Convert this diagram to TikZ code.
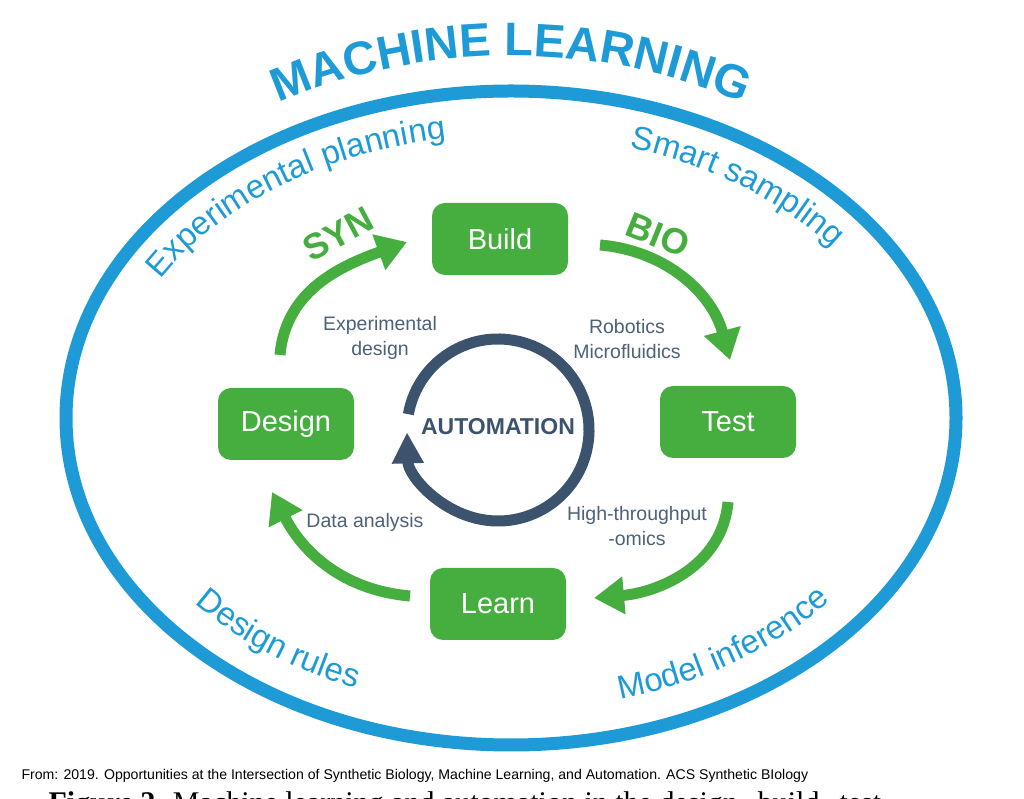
\documentclass[tikz,border=0pt]{standalone}
\usepackage{fontspec}
\setmainfont{Liberation Sans}
\newfontfamily\capserif{Liberation Serif}
\usetikzlibrary{arrows.meta,decorations.text}
\definecolor{gBlue} {HTML}{1E9BD7}
\definecolor{gGreen}{HTML}{45AE3F}
\definecolor{gNavy} {HTML}{3B536D}
\definecolor{gNavyLt}{HTML}{4D6178}
\newcommand{\ringfont}{\fontsize{33}{33}\selectfont}

\begin{document}
\begin{tikzpicture}[
  x=1pt, y=1pt,
  stage/.style={rounded corners=13pt, fill=gGreen, text=white, minimum width=136pt,
                minimum height=72pt, font=\fontsize{29}{29}\selectfont},
  note/.style={text=gNavyLt, align=center, font=\fontsize{19.5}{25}\selectfont},
  flow/.style={draw=gGreen, line width=11pt, -{Triangle[length=30pt,width=36pt]}},
  ringtext/.style={decorate, decoration={text along path, text align=center, text color=gBlue}},
]
\useasboundingbox (0,0) rectangle (1024,799);
\clip (0,0) rectangle (1024,799);

% ============================================================ ring
\coordinate (o) at (511,381);
\draw[draw=gBlue, line width=13pt] (o) ellipse [x radius=445, y radius=327];

\path[ringtext, decoration={text={|\bfseries\fontsize{47}{47}\selectfont|MACHINE LEARNING}}]
  (o) ++({470*cos(150)},{362*sin(150)}) arc[start angle=150, end angle=30, x radius=470, y radius=362];
\path[ringtext, decoration={text={|\ringfont|Experimental planning}}]
  (o) ++({402*cos(167)},{283*sin(167)}) arc[start angle=167, end angle=87, x radius=402, y radius=283];
\path[ringtext, decoration={text={|\ringfont|Smart sampling}}]
  (o) ++({402*cos(92)},{283*sin(92)}) arc[start angle=92, end angle=12, x radius=402, y radius=283];
\path[ringtext, decoration={text={|\ringfont|Design rules}}]
  (o) ++({410*cos(190.5)},{292*sin(190.5)}) arc[start angle=190.5, end angle=270.5, x radius=410, y radius=292];
\path[ringtext, decoration={text={|\ringfont|Model inference}}]
  (o) ++({410*cos(266)},{292*sin(266)}) arc[start angle=266, end angle=346, x radius=410, y radius=292];

% ============================================================ stages
\node[stage] at (500,560) (build)  {Build};
\node[stage] at (728,377) (test)   {Test};
\node[stage] at (498,195) (learn)  {Learn};
\node[stage] at (286,375) (design) {Design};

% ---- cycle arrows
\coordinate (syn1) at (280,444);  \coordinate (syn2) at (407,557);
\coordinate (bio1) at (600,554);  \coordinate (bio2) at (730,439);
\coordinate (omx1) at (728,297);  \coordinate (omx2) at (594,201);
\coordinate (dat1) at (410,203);  \coordinate (dat2) at (272,307);
\draw[flow] (syn1) to[out=85, in=200] (syn2);
\draw[flow] (bio1) to[out=-5, in=105] (bio2);
\draw[flow] (omx1) to[out=-95, in=5] (omx2);
\draw[flow] (dat1) to[out=175, in=-63] (dat2);

\node[font=\bfseries\fontsize{36}{36}\selectfont, text=gGreen, rotate=28] at (338,565) (syn) {SYN};
\node[font=\bfseries\fontsize{36}{36}\selectfont, text=gGreen, rotate=-22] at (658,564) (bio) {BIO};

% ============================================================ automation
\coordinate (ac) at (498,369);
\draw[draw=gNavy, line width=11pt, -{Triangle[length=31pt,width=30pt]}]
  (ac) ++(170:91) arc[start angle=170, end angle=-178.5, radius=91];
\node[font=\bfseries\fontsize{23}{23}\selectfont, text=gNavy] at (498,372) (auto) {AUTOMATION};

\node[note] at (380,461) (expd) {Experimental\\design};
\node[note] at (627,460) (robo) {Robotics\\Microfluidics};
\node[note] at (365,277) (data) {Data analysis};
\node[note] at (637,273) (htp)  {High-throughput\\-omics};

% source
\node[anchor=west, font=\fontsize{14.1}{14.1}\selectfont] at (18,23) (src)
  {From: 2019. Opportunities at the Intersection of Synthetic Biology, Machine Learning, and Automation. ACS Synthetic BIology};
\node[anchor=base west, font=\capserif\fontsize{30}{30}\selectfont] at (45,-14) (cap)
  {\textbf{Figure 2.} Machine learning and automation in the design--build--test};

\end{tikzpicture}
\end{document}
